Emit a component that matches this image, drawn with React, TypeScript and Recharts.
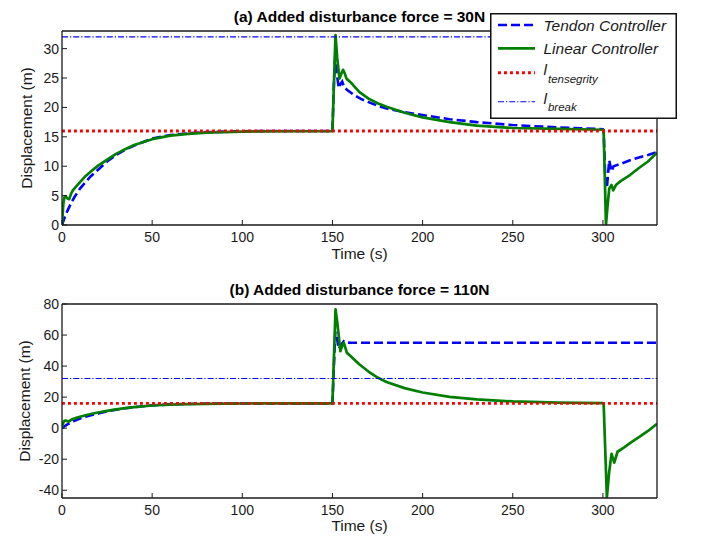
import React from 'react';
import { LineChart, Line, XAxis, YAxis, Legend, Label } from 'recharts';

const FONT = '"Liberation Sans", Arial, Helvetica, sans-serif';
const INK = '#1a1a1a';

// ---- Panel (a): added disturbance force = 30N ----
const tendonTimeA = [0, 1, 2, 3, 5, 7, 10, 13, 16, 20, 25, 30, 35, 40, 50, 60, 70, 80, 100, 125, 150, 150.8, 151.6, 152.3, 153.5, 154.5, 155.4, 156.3, 158, 162, 166, 170, 175, 180, 190, 200, 215, 230, 250, 275, 300, 300.4, 301.2, 302.2, 303.5, 304.8, 305.9, 310, 315, 320, 325, 330];
const tendonDispA = [0, 0.9, 1.7, 2.4, 3.7, 4.8, 6.2, 7.3, 8.3, 9.4, 10.8, 11.9, 12.8, 13.5, 14.7, 15.3, 15.6, 15.8, 15.95, 16.0, 16.0, 24, 29.5, 26, 23.3, 24.0, 24.4, 23.6, 23.0, 22.1, 21.4, 20.9, 20.3, 19.8, 19.2, 18.7, 18.0, 17.5, 17.0, 16.6, 16.3, 16.2, 9, 6.3, 11.0, 9.1, 10.0, 10.4, 11.0, 11.5, 11.9, 12.4];
const linearTimeA = [0, 0.7, 1.3, 2, 3, 4, 5, 6, 8, 10, 13, 16, 20, 25, 30, 35, 40, 50, 60, 70, 80, 100, 125, 150, 150.6, 151.7, 152.6, 153.9, 155.0, 155.9, 156.8, 157.8, 160, 165, 170, 175, 180, 190, 200, 215, 230, 250, 275, 300, 300.4, 301.7, 302.5, 303.5, 304.8, 305.7, 307.2, 310, 315, 320, 325, 330];
const linearDispA = [0, 3.5, 4.7, 4.9, 4.5, 4.4, 5.3, 5.9, 6.6, 7.3, 8.3, 9.1, 10.1, 11.1, 12.1, 12.9, 13.6, 14.6, 15.2, 15.5, 15.7, 15.9, 15.95, 15.98, 22, 32.3, 28.5, 24.9, 25.8, 26.4, 25.8, 24.9, 24.3, 22.6, 21.5, 20.7, 20.1, 19.1, 18.3, 17.5, 16.9, 16.5, 16.35, 16.2, 16.1, 0, 3, 6.2, 6.8, 5.9, 6.8, 7.5, 8.5, 9.7, 10.8, 12.3];

// ---- Panel (b): added disturbance force = 110N ----
const tendonTimeB = [0, 1, 2, 3, 5, 7, 10, 13, 16, 20, 25, 30, 35, 40, 50, 60, 70, 80, 100, 125, 150, 150.8, 151.6, 152.5, 153.5, 155, 156.3, 157.5, 160, 200, 250, 300, 330];
const tendonDispB = [0, 0.9, 1.7, 2.4, 3.7, 4.8, 6.2, 7.3, 8.3, 9.4, 10.8, 11.9, 12.8, 13.5, 14.7, 15.3, 15.6, 15.8, 15.95, 16.0, 16.0, 40, 62, 58, 51, 53.9, 56, 55.2, 55, 55, 55, 55, 55];
const linearTimeB = [0, 0.7, 1.3, 2, 3, 4, 5, 6, 8, 10, 13, 16, 20, 25, 30, 35, 40, 50, 60, 70, 80, 100, 125, 150, 150.6, 151.7, 152.7, 154.4, 155.4, 156.3, 157.1, 158, 160, 165, 170, 175, 180, 190, 200, 215, 230, 250, 275, 300, 300.4, 302.2, 303.5, 304.8, 306.3, 308.1, 312, 316, 320, 325, 330];
const linearDispB = [0, 3.5, 4.7, 4.9, 4.5, 4.4, 5.3, 5.9, 6.6, 7.3, 8.3, 9.1, 10.1, 11.1, 12.1, 12.9, 13.6, 14.6, 15.2, 15.5, 15.7, 15.9, 15.95, 15.98, 38, 76.6, 68, 49.6, 53, 55, 52, 48.5, 46.5, 41, 36.5, 32.6, 29.8, 25.8, 23.0, 20.2, 18.5, 17.2, 16.5, 16.1, 16.0, -44.5, -28, -16.6, -22.2, -15.2, -12.2, -8.8, -5.8, -1.8, 2.8];

// ---- Limits, axes ----
const tensegrityLimit = 16;
const breakLimit = 32;
const timeDomain = [0, 330];
const timeTicks = [0, 50, 100, 150, 200, 250, 300];
const yDomainA = [0, 33];
const yTicksA = [0, 5, 10, 15, 20, 25, 30];
const yDomainB = [-45, 80];
const yTicksB = [-40, -20, 0, 20, 40, 60, 80];

const toPoints = (ts: number[], ys: number[]) => ts.map((t, i) => ({ t, y: ys[i] }));
const levelPoints = (v: number) => timeDomain.map((t) => ({ t, y: v }));

const STYLES: Record<string, any> = {
  tendon: { stroke: '#0000ff', strokeWidth: 2.6, strokeDasharray: '9 4' },
  linear: { stroke: '#007f00', strokeWidth: 2.7 },
  tensegrity: { stroke: '#ff0000', strokeWidth: 2.9, strokeDasharray: '2.9 3.1' },
  brk: { stroke: '#0000ff', strokeWidth: 1.1, strokeDasharray: '6 2 1.2 2' },
};

const legendRows = [
  { key: 'tendon', main: 'Tendon Controller', sub: '', lineY: 12, textY: 17.5 },
  { key: 'linear', main: 'Linear Controller', sub: '', lineY: 35.3, textY: 40.5 },
  { key: 'tensegrity', main: 'l', sub: 'tensegrity', lineY: 59.7, textY: 62 },
  { key: 'brk', main: 'l', sub: 'break', lineY: 88.7, textY: 90.5 },
];

function LegendBox() {
  return (
    <svg width={187} height={106} style={{ display: 'block' }}>
      <rect x={0.75} y={0.75} width={185.5} height={104.5} fill="#fff" stroke="#111" strokeWidth={1.5} />
      {legendRows.map((r) => (
        <g key={r.key}>
          <line x1={8} x2={45} y1={r.lineY} y2={r.lineY} {...STYLES[r.key]} />
          <text x={53.5} y={r.textY} fontStyle="italic" fontSize={15.5} fontFamily={FONT} fill={INK}>
            {r.main}
            {r.sub ? (
              <tspan fontSize={11.5} dy={7.5} dx={1}>
                {r.sub}
              </tspan>
            ) : null}
          </text>
        </g>
      ))}
    </svg>
  );
}

type PanelProps = {
  title: string;
  tendon: { t: number; y: number }[];
  linear: { t: number; y: number }[];
  yDomain: number[];
  yTicks: number[];
  height: number;
  marginTop: number;
  xAxisHeight: number;
  timeLabelOffset: number;
  yLabelOffset: number;
  showLegend: boolean;
};

const tickStyle = { fill: INK, fontSize: 14, fontFamily: FONT };
const labelStyle = { fill: INK, fontSize: 15.5, fontFamily: FONT };

function Panel(p: PanelProps) {
  return (
    <LineChart width={702} height={p.height} margin={{ top: p.marginTop - 1, right: 44, bottom: 0, left: 0 }}>
      <XAxis
        dataKey="t"
        type="number"
        domain={timeDomain}
        ticks={timeTicks}
        allowDataOverflow
        interval={0}
        height={p.xAxisHeight}
        tickSize={-5}
        tickMargin={12}
        stroke={INK}
        axisLine={{ strokeWidth: 1.3 }}
        tick={tickStyle}
      >
        <Label value="Time (s)" position="insideBottom" offset={p.timeLabelOffset} style={labelStyle} />
      </XAxis>
      {/* mirrored box axes: top and right, ticks only */}
      <XAxis
        xAxisId="top"
        orientation="top"
        dataKey="t"
        type="number"
        domain={timeDomain}
        ticks={timeTicks}
        allowDataOverflow
        interval={0}
        height={1}
        tick={false}
        tickSize={-5}
        stroke={INK}
        axisLine={{ strokeWidth: 1.3 }}
      >
        <Label
          value={p.title}
          position="top"
          offset={8.5}
          style={{ fill: '#000', fontSize: 15.5, fontWeight: 'bold', fontFamily: FONT }}
        />
      </XAxis>
      <YAxis
        type="number"
        domain={p.yDomain}
        ticks={p.yTicks}
        allowDataOverflow
        interval={0}
        width={62}
        tickSize={-5}
        tickMargin={8}
        stroke={INK}
        axisLine={{ strokeWidth: 1.3 }}
        tick={tickStyle}
      >
        <Label
          value="Displacement (m)"
          angle={-90}
          position="insideLeft"
          offset={p.yLabelOffset}
          style={{ ...labelStyle, textAnchor: 'middle' }}
        />
      </YAxis>
      <YAxis
        yAxisId="right"
        orientation="right"
        type="number"
        domain={p.yDomain}
        ticks={p.yTicks}
        allowDataOverflow
        interval={0}
        width={1}
        tick={false}
        tickSize={-5}
        stroke={INK}
        axisLine={{ strokeWidth: 1.3 }}
      />
      <Line data={p.tendon} dataKey="y" name="Tendon Controller" type="linear" dot={false} activeDot={false} isAnimationActive={false} {...STYLES.tendon} />
      <Line data={p.linear} dataKey="y" name="Linear Controller" type="linear" dot={false} activeDot={false} isAnimationActive={false} strokeLinejoin="round" {...STYLES.linear} />
      <Line xAxisId="top" yAxisId="right" data={levelPoints(tensegrityLimit)} dataKey="y" name="l_tensegrity" type="linear" dot={false} activeDot={false} isAnimationActive={false} {...STYLES.tensegrity} />
      <Line xAxisId="top" yAxisId="right" data={levelPoints(breakLimit)} dataKey="y" name="l_break" type="linear" dot={false} activeDot={false} isAnimationActive={false} {...STYLES.brk} />
      {p.showLegend ? (
        <Legend
          layout="vertical"
          align="center"
          verticalAlign="middle"
          content={() => <LegendBox />}
          wrapperStyle={{ left: 490, top: 13, width: 187, height: 106, bottom: 'auto', right: 'auto', margin: 0 }}
        />
      ) : null}
    </LineChart>
  );
}

export default function App() {
  return (
    <div style={{ position: 'absolute', left: 0, top: 0, width: 702, height: 537, background: '#fff', overflow: 'hidden' }}>
      <div style={{ position: 'absolute', left: 0, top: 0 }}>
        <Panel
          title="(a) Added disturbance force = 30N"
          tendon={toPoints(tendonTimeA, tendonDispA)}
          linear={toPoints(linearTimeA, linearDispA)}
          yDomain={yDomainA}
          yTicks={yTicksA}
          height={268}
          marginTop={31}
          xAxisHeight={43}
          timeLabelOffset={9.5}
          yLabelOffset={26}
          showLegend
        />
      </div>
      <div style={{ position: 'absolute', left: 0, top: 268 }}>
        <Panel
          title="(b) Added disturbance force = 110N"
          tendon={toPoints(tendonTimeB, tendonDispB)}
          linear={toPoints(linearTimeB, linearDispB)}
          yDomain={yDomainB}
          yTicks={yTicksB}
          height={269}
          marginTop={36}
          xAxisHeight={39}
          timeLabelOffset={6}
          yLabelOffset={24.5}
          showLegend={false}
        />
      </div>
    </div>
  );
}
